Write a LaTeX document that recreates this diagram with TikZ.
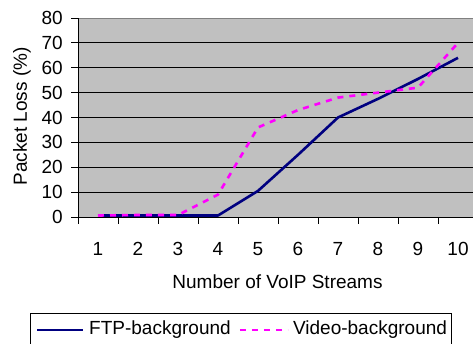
\documentclass[tikz,border=0pt]{standalone}
\usepackage{fontspec}
\setmainfont{Liberation Sans}
\usetikzlibrary{positioning}

\definecolor{plotgray}{HTML}{C0C0C0}
\definecolor{ftpblue}{HTML}{000080}
\definecolor{videopink}{HTML}{FF00FF}

\tikzset{
    chartfont/.style={inner sep=0pt,font=\fontsize{19}{22}\selectfont},
    ftpline/.style={ftpblue,line width=2.6pt,line join=round},
    videoline/.style={videopink,line width=2.6pt,dash pattern=on 6pt off 6pt},
    gridline/.style={black,line width=0.9pt},
}

\begin{document}
\begin{tikzpicture}[x=1pt,y=1pt]
    \useasboundingbox (0,0) rectangle (473,343);
    \clip (0,0) rectangle (473,343);

    \begin{scope}[shift={(78,126)},x=40pt,y=2.4875pt]
        \fill[plotgray] (0,0) rectangle (10,80);
        \foreach \v in {10,20,...,70}
            \draw[gridline] (0,\v) -- (10,\v);
        \draw[gray,line width=0.9pt] (0,80) -- (10,80);

        \foreach \v in {0,10,...,80} {
            \draw[gridline] (-0.175,\v) -- (0,\v);
            \node[chartfont,anchor=east] (ytick\v) at (-0.375,\v) {\v};
        }
        \foreach \i in {0,...,10}
            \draw[gridline] (\i,0) -- (\i,-2.8);
        \foreach \i in {1,...,10}
            \node[chartfont] (xtick\i) at (\i-0.5,-12.86) {\i};

        \draw[gridline] (0,0) -- (0,80);
        \draw[gridline] (0,0) -- (10,0);

        \draw[ftpline] (0.5,0.6) -- (1.5,0.6) -- (2.5,0.6) -- (3.5,0.6) -- (4.5,10.5)
            -- (5.5,25) -- (6.5,40) -- (7.5,47.5) -- (8.5,55.5) -- (9.5,64);
        \draw[videoline] (0.5,0.6) -- (1.5,0.8) -- (2.5,0.8) -- (3.5,9) -- (4.5,36)
            -- (5.5,43) -- (6.5,48) -- (7.5,50) -- (8.5,52) -- (9.5,70);
    \end{scope}

    \node[chartfont] (xlabel) at (277.5,61.3) {Number of VoIP Streams};
    \node[chartfont,rotate=90] (ylabel) at (22,226.5) {Packet Loss (\%)};

    \draw[black,line width=0.9pt] (30,-5) rectangle (451,29.7);
    \coordinate (ftpa) at (37,13);
    \coordinate (ftpb) at (83,13);
    \draw[ftpline] (ftpa) -- (ftpb);
    \node[chartfont,anchor=west,right=6pt of ftpb] (ftp) {FTP-background};
    \coordinate[right=9pt of ftp] (videoa);
    \coordinate[right=48pt of videoa] (videob);
    \draw[videoline] (videoa) -- (videob);
    \node[chartfont,right=5pt of videob] (video) {Video-background};
\end{tikzpicture}
\end{document}
